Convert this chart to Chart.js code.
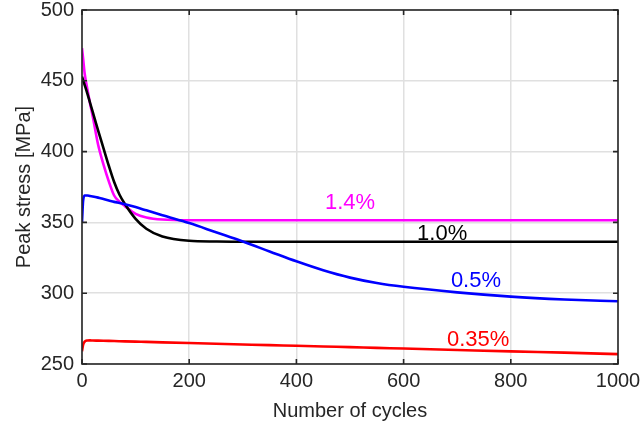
<!DOCTYPE html>
<html>
<head>
<meta charset="utf-8">
<script src="https://cdn.jsdelivr.net/npm/chart.js@4"></script>
<style>
  html, body { margin: 0; padding: 0; background: #fff; }
  #wrap { width: 641px; height: 430px; }
</style>
</head>
<body>
<div id="wrap"><canvas id="stressChart" width="641" height="430"></canvas></div>
<script>
const cycles = [0, 2, 5, 10, 15, 20, 30, 40, 50, 60, 70, 80, 100, 120, 150, 200, 250, 300, 350, 400, 450, 500, 550, 600, 700, 800, 900, 1000];

// Peak stress [MPa] for each strain amplitude
const stress14 = [473, 466, 455, 444, 434, 425, 405, 391, 379, 369, 364.5, 361.5, 356, 353.5, 352, 351.5, 351.5, 351.5, 351.5, 351.5, 351.5, 351.5, 351.5, 351.5, 351.5, 351.5, 351.5, 351.5];
const stress10 = [453, 450.5, 447, 441, 434.5, 428, 415, 402.5, 390, 378.5, 369.5, 363, 352.5, 345.5, 340, 337, 336.5, 336.3, 336.3, 336.3, 336.3, 336.3, 336.3, 336.3, 336.3, 336.3, 336.3, 336.3];
const stress05 = [350, 365, 369, 369, 368.6, 368.3, 367.5, 366.5, 365.5, 364.5, 363.7, 362.8, 360.8, 358.5, 355, 349.5, 343, 336.5, 329.5, 322.5, 316.2, 311, 307.2, 304.5, 300.6, 297.6, 295.6, 294.3];
const stress035 = [259, 263.5, 265.8, 266.6, 266.7, 266.6, 266.5, 266.4, 266.3, 266.2, 266.1, 266, 265.8, 265.6, 265.3, 264.8, 264.3, 263.8, 263.3, 262.9, 262.4, 261.9, 261.4, 260.9, 259.9, 258.9, 258, 257];

// Axis ticks
const xTicks = [0, 200, 400, 600, 800, 1000];
const yTicks = [250, 300, 350, 400, 450, 500];

// Curve labels, anchored in data units
const curveNames = ["1.4%", "1.0%", "0.5%", "0.35%"];
const curveColors = ["#ff00ff", "#000000", "#0000ff", "#ff0000"];
const labelAt = [[500, 364], [672, 341.5], [735, 308.5], [739, 267]];

function toPoints(ys) {
  return cycles.map(function (c, i) { return { x: c, y: ys[i] }; });
}

// Draw the closed box, inward ticks and the curve labels
const boxPlugin = {
  id: "box",
  afterDraw: function (chart) {
    const ctx = chart.ctx;
    const a = chart.chartArea;
    const x = chart.scales.x;
    const y = chart.scales.y;
    ctx.save();
    ctx.strokeStyle = "#262626";
    ctx.lineWidth = 1.6;
    ctx.strokeRect(a.left, a.top, a.right - a.left, a.bottom - a.top);

    ctx.beginPath();
    xTicks.forEach(function (v) {
      const px = x.getPixelForValue(v);
      ctx.moveTo(px, a.bottom); ctx.lineTo(px, a.bottom - 5);
      ctx.moveTo(px, a.top); ctx.lineTo(px, a.top + 5);
    });
    yTicks.forEach(function (v) {
      const py = y.getPixelForValue(v);
      ctx.moveTo(a.left, py); ctx.lineTo(a.left + 5, py);
      ctx.moveTo(a.right, py); ctx.lineTo(a.right - 5, py);
    });
    ctx.stroke();

    ctx.font = "22px 'Liberation Sans', Arial, sans-serif";
    ctx.textAlign = "center";
    ctx.textBaseline = "middle";
    curveNames.forEach(function (name, i) {
      ctx.fillStyle = curveColors[i];
      ctx.fillText(name, x.getPixelForValue(labelAt[i][0]), y.getPixelForValue(labelAt[i][1]));
    });
    ctx.restore();
  }
};

const series = [stress035, stress05, stress10, stress14];
const seriesColors = ["#ff0000", "#0000ff", "#000000", "#ff00ff"];

const ctx = document.getElementById("stressChart").getContext("2d");
new Chart(ctx, {
  type: "line",
  data: {
    datasets: series.map(function (s, i) {
      return {
        data: toPoints(s),
        borderColor: seriesColors[i],
        borderWidth: 2.6,
        pointRadius: 0,
        fill: false,
        cubicInterpolationMode: "monotone"
      };
    })
  },
  options: {
    responsive: false,
    animation: false,
    layout: { padding: { top: 10, right: 23, left: 0, bottom: 0 } },
    plugins: { legend: { display: false }, tooltip: { enabled: false } },
    scales: {
      x: {
        type: "linear",
        min: 0,
        max: 1000,
        afterFit: function (s) { s.height = 66; s.paddingLeft = 0; s.paddingRight = 0; },
        afterBuildTicks: function (s) { s.ticks = xTicks.map(function (v) { return { value: v }; }); },
        grid: { color: "#e0e0e0", lineWidth: 1.5, drawTicks: false },
        border: { display: false },
        ticks: {
          padding: 5,
          color: "#262626",
          font: { family: "'Liberation Sans', Arial", size: 20 },
          callback: function (v) { return String(v); }
        },
        title: {
          display: true,
          text: "Number of cycles",
          color: "#262626",
          padding: { top: 0, bottom: 7 },
          font: { family: "'Liberation Sans', Arial", size: 20 }
        }
      },
      y: {
        min: 250,
        max: 500,
        afterFit: function (s) { s.width = 82; s.paddingTop = 0; s.paddingBottom = 0; },
        afterBuildTicks: function (s) { s.ticks = yTicks.map(function (v) { return { value: v }; }); },
        grid: { color: "#e0e0e0", lineWidth: 1.5, drawTicks: false },
        border: { display: false },
        ticks: { padding: 8, color: "#262626", font: { family: "'Liberation Sans', Arial", size: 20 } },
        title: {
          display: true,
          text: "Peak stress [MPa]",
          color: "#262626",
          padding: { top: 12, bottom: 0 },
          font: { family: "'Liberation Sans', Arial", size: 20 }
        }
      }
    }
  },
  plugins: [boxPlugin]
});
</script>
</body>
</html>
